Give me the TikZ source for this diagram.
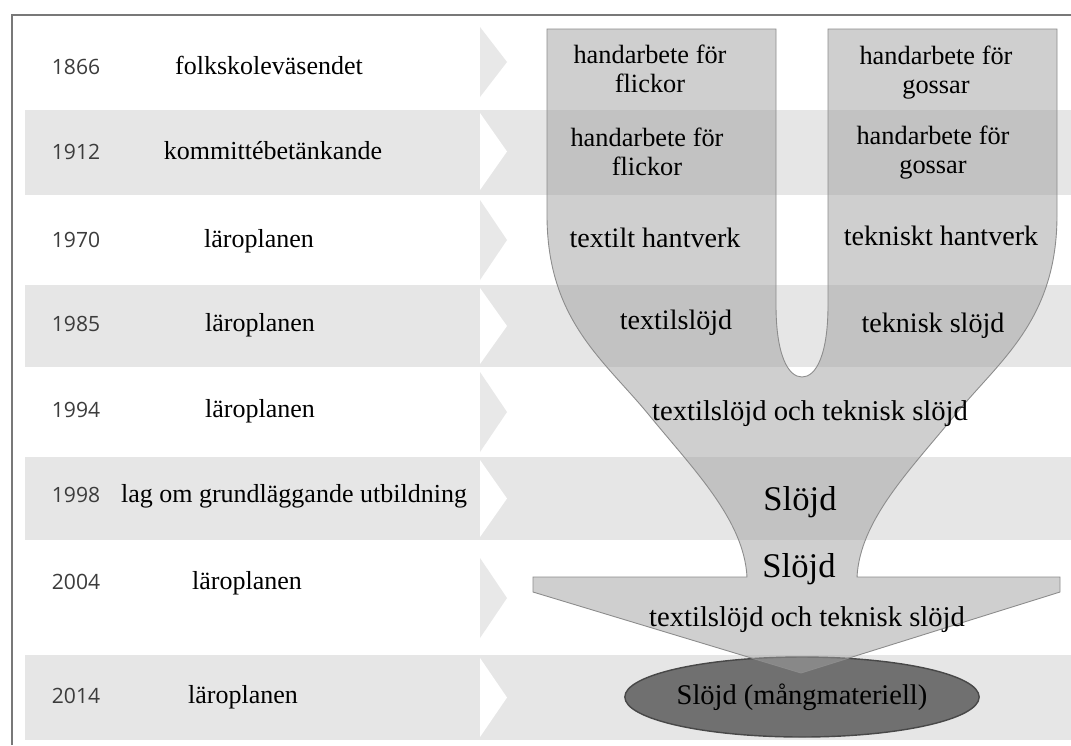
\documentclass[tikz,border=0pt]{standalone}
\usepackage{fontspec}
\setmainfont{Liberation Serif}
\newfontfamily\yearfont{Open Sans}
\usepackage{tikz}
\usetikzlibrary{positioning,shapes.geometric}

\definecolor{bandgray}{RGB}{230,230,230}
\definecolor{chevgray}{RGB}{232,232,232}
\definecolor{funfill}{RGB}{160,160,160}
\definecolor{funline}{RGB}{140,140,140}
\definecolor{ovalfill}{RGB}{112,112,112}
\definecolor{ovalline}{RGB}{72,72,72}
\definecolor{framegray}{RGB}{120,120,120}
\definecolor{yeargray}{RGB}{60,60,60}

\begin{document}
\begin{tikzpicture}[x=0.02cm, y=-0.02cm,
  yr/.style={anchor=base, inner sep=0pt, text=yeargray, font=\yearfont\fontsize{12}{14}\selectfont},
  desc/.style={anchor=base, inner sep=0pt, font=\fontsize{14.8}{17}\selectfont},
  lbl/.style={anchor=base, inner sep=0pt, align=center, font=\fontsize{15}{16.5}\selectfont},
  mid/.style={anchor=base, inner sep=0pt, font=\fontsize{16}{18}\selectfont},
  wide/.style={anchor=base, inner sep=0pt, font=\fontsize{16.3}{18}\selectfont},
  sl/.style={anchor=base, inner sep=0pt, font=\fontsize{19.7}{22}\selectfont},
  funnel/.style={draw=funline, line width=0.5pt, fill=funfill, fill opacity=0.5},
  oval/.style={ellipse, draw=ovalline, line width=0.8pt, fill=ovalfill, inner sep=0pt,
    minimum width=7.02cm, minimum height=1.6cm, font=\fontsize{16.2}{18}\selectfont}]
\useasboundingbox (0,0) rectangle (1071,745);
\fill[white] (0,0) rectangle (1071,745);
% rows
\foreach \yt/\yb in {110/195,285/367,457/540,655/740}
  \fill[bandgray] (25,\yt) rectangle (1071,\yb);
\foreach \yt/\yb/\c in {27/97/chevgray,113/190/white,200/280/chevgray,288/364/white,
    372/452/chevgray,460/537/white,558/638/chevgray,658/737/white}
  \fill[\c] (480,\yt) -- (507,{(\yt+\yb)/2}) -- (480,\yb) -- cycle;
\draw[framegray, line width=1pt] (12,745) -- (12,15) -- (1071,15);
% years and documents
\foreach \i/\yy/\base/\dx/\txt in {1/1866/74/269/folkskoleväsendet,
    2/1912/159/273/kommittébetänkande, 3/1970/247/259/läroplanen,
    4/1985/331/260/läroplanen, 5/1994/417/260/läroplanen,
    6/1998/502/294/lag om grundläggande utbildning,
    7/2004/589/247/läroplanen, 8/2014/703/243/läroplanen}{
  \node[yr] (yr\i) at (76,\base) {\yy};
  \node[desc] (doc\i) at (\dx,\base) {\txt};
}
% funnel
\node[oval] (mang) at (802,697) {Slöjd (mångmateriell)};
\draw[funnel] (547,29) -- (776,29) -- (776,305)
  .. controls (776,355) and (788,377) .. (802,377)
  .. controls (816,377) and (828,355) .. (828,305)
  -- (828,29) -- (1057,29) -- (1057,215)
  .. controls (1057,320) and (1000,360) .. (955,415)
  .. controls (910,470) and (860,520) .. (857,577)
  -- (1060,577) -- (1060,592) -- (801,673) -- (533,592) -- (533,577) -- (747,577)
  .. controls (744,520) and (694,470) .. (649,415)
  .. controls (604,360) and (547,320) .. (547,215) -- cycle;
\node[lbl] (flick1) at (650,92) {handarbete för\\flickor};
\node[lbl] (flick2) at (647,175) {handarbete för\\flickor};
\node[lbl] (goss1) at (936,93) {handarbete för\\gossar};
\node[lbl] (goss2) at (933,173) {handarbete för\\gossar};
\node[mid] (texhant) at (655,247) {textilt hantverk};
\node[mid] (tekhant) at (941,245) {tekniskt hantverk};
\node[mid] (texsl) at (676,329) {textilslöjd};
\node[mid] (teksl) at (933,332) {teknisk slöjd};
\node[wide] (both1) at (810,420) {textilslöjd och teknisk slöjd};
\node[sl] (slojd1) at (800,510) {Slöjd};
\node[sl] (slojd2) at (799,577) {Slöjd};
\node[wide] (both2) at (807,626) {textilslöjd och teknisk slöjd};
\end{tikzpicture}
\end{document}
